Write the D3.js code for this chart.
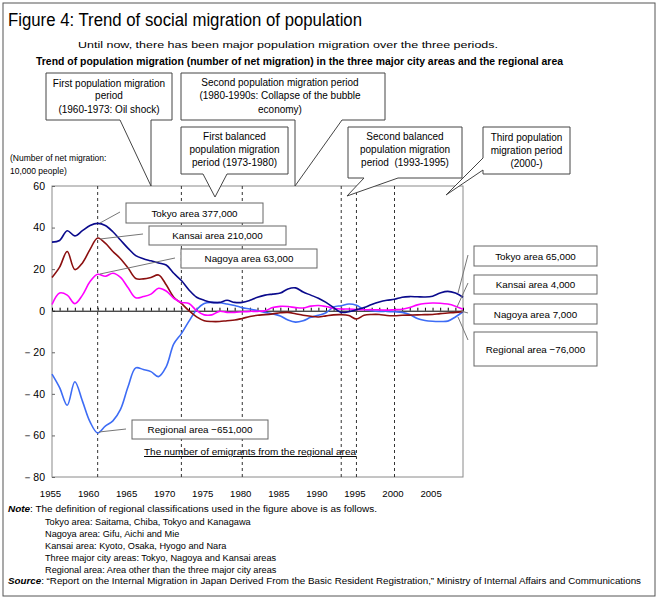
<!DOCTYPE html>
<html>
<head>
<meta charset="utf-8">
<script src="https://cdn.jsdelivr.net/npm/d3@7"></script>
<style>
  body { margin: 0; background: #fff; }
  text { font-family: "Liberation Sans", Arial, sans-serif; fill: #000; }
</style>
</head>
<body>
<script>
// Chart data (net migration, 10,000 people)
var years = [1955, 1956, 1957, 1958, 1959, 1960, 1961, 1962, 1963, 1964,
             1965, 1966, 1967, 1968, 1969, 1970, 1971, 1972, 1973, 1974,
             1975, 1976, 1977, 1978, 1979, 1980, 1981, 1982, 1983, 1984,
             1985, 1986, 1987, 1988, 1989, 1990, 1991, 1992, 1993, 1994,
             1995, 1996, 1997, 1998, 1999, 2000, 2001, 2002, 2003, 2004,
             2005, 2006, 2007, 2008, 2009];

var tokyo = [33, 33.8, 38.5, 36, 38.5, 41, 42, 41, 38, 34,
             30, 26.5, 25, 24, 23, 22, 18, 14.5, 10, 6.5,
             5, 4, 4, 5, 4, 4, 5, 6.5, 7.5, 8,
             8.5, 10.5, 11, 9, 7.5, 6, 4, 1.5, -0.8, -0.5,
             0.5, 1.5, 3, 4.2, 5, 5.5, 6.5, 6.8, 6.7, 6.6,
             7, 8.5, 9.3, 8.5, 6.5];

var kansai = [16, 21, 28.5, 19.8, 23, 29.5, 35, 32.5, 28.5, 25,
              20.5, 15.5, 15.3, 16, 17.2, 12.5, 6.5, 3.5, 0, -3,
              -4.8, -5.2, -5.2, -4.8, -4.5, -3.7, -2.8, -2.2, -1.9, -1.5,
              -1, -0.8, -1.5, -2.2, -2.7, -3, -2.5, -2, -1.9, -2.3,
              -4, -2.2, -1.8, -1.8, -2.3, -2.4, -2.2, -2.1, -2, -1.9,
              -1.8, -1.4, -1.1, -0.8, -0.3];

var nagoya = [3, 8.5, 7.5, 3.4, 7.5, 14, 17.5, 16.6, 18, 16,
              11, 6.2, 6.8, 8, 10.8, 9.5, 6, 4, 3.5, 0,
              -2, -2, -0.3, -0.8, -0.8, -0.5, -0.3, -0.3, 0, 1.5,
              2.1, 2, 1.5, 1.3, 2.2, 2.5, 2, 1.2, 0.8, 0.8,
              0.6, 0.5, 0.5, 0.4, 0.3, 0.5, 0.7, 1.5, 2.8, 3.5,
              3.7, 3.6, 3.2, 2.2, 0.7];

var regional = [-30.5, -37, -45.5, -34.2, -43.5, -53.5, -58.8, -55.5, -53, -47.5,
                -36.5, -27.5, -28.3, -29.3, -31.7, -27, -16, -11, -5, 0.5,
                3.5, 4, 3.8, 3.2, 2.5, 1.5, 0.8, 0, -0.8, -1.5,
                -2.5, -4.5, -5.5, -4.8, -3.2, -2.2, -1, 1.8, 2.4, 3.2,
                2.6, 0.6, 0, -0.3, -0.3, -0.5, -0.8, -1.8, -3.8, -4.7,
                -5.1, -5.2, -5, -3, -0.5];

var yTicks = [60, 40, 20, 0, -20, -40, -60, -80];
var labelYears = [1955, 1960, 1965, 1970, 1975, 1980, 1985, 1990, 1995, 2000, 2005];
var periodYears = [1961, 1972, 1980, 1993, 1995, 2000];

var seriesNames = ["Regional area", "Kansai area", "Nagoya area", "Tokyo area"];
var seriesValues = [regional, kansai, nagoya, tokyo];
var seriesColors = ["#3d6cf5", "#8b0f0f", "#ff00ff", "#0a0a8c"];

// Width and height of the svg
var w = 660;
var h = 600;

var svg = d3.select("body")
        .append("svg")
        .attr("width", w)
        .attr("height", h);

// Outer frame
svg.append("rect")
    .attr("x", 3).attr("y", 3)
    .attr("width", 652).attr("height", 593)
    .attr("fill", "none")
    .attr("stroke", "#555");

// Headings
svg.append("text")
    .attr("x", 8).attr("y", 26)
    .attr("font-size", "17.5px")
    .attr("textLength", 354).attr("lengthAdjust", "spacingAndGlyphs")
    .text("Figure 4: Trend of social migration of population");

svg.append("text")
    .attr("x", 78).attr("y", 47.5)
    .attr("font-size", "9.8px")
    .attr("textLength", 420).attr("lengthAdjust", "spacingAndGlyphs")
    .text("Until now, there has been major population migration over the three periods.");

svg.append("text")
    .attr("x", 36).attr("y", 65)
    .attr("font-size", "11px")
    .attr("font-weight", "bold")
    .attr("textLength", 527).attr("lengthAdjust", "spacingAndGlyphs")
    .text("Trend of population migration (number of net migration) in the three major city areas and the regional area");

// Scales
var x = d3.scaleLinear().domain([1955, 2009]).range([52, 463]);
var y = d3.scaleLinear().domain([-80, 60]).range([477, 186]);

// Plot frame
svg.append("rect")
    .attr("x", x(1955)).attr("y", y(60))
    .attr("width", x(2009) - x(1955)).attr("height", y(-80) - y(60))
    .attr("fill", "none")
    .attr("stroke", "#8a8a8a");

// Y axis (ticks inside)
var yAxis = d3.axisLeft(y)
        .tickValues(yTicks)
        .tickSizeInner(-3)
        .tickSizeOuter(0)
        .tickPadding(7)
        .tickFormat(function(d) { return d < 0 ? "\uFF0D" + Math.abs(d) : d; });

var gy = svg.append("g")
        .attr("transform", "translate(" + x(1955) + ",0)")
        .call(yAxis);
gy.select(".domain").remove();
gy.selectAll("line").attr("stroke", "#666");
gy.selectAll("text")
    .attr("font-size", "10.5px")
    .attr("font-family", "\"Liberation Sans\", Arial, sans-serif");

// Y axis title
svg.append("text").attr("x", 10).attr("y", 161).attr("font-size", "8.5px").text("(Number of net migration:");
svg.append("text").attr("x", 10).attr("y", 174).attr("font-size", "8.5px").text("10,000 people)");

// X axis labels under the frame
var xAxis = d3.axisBottom(x)
        .tickValues(labelYears)
        .tickSize(0)
        .tickPadding(13)
        .tickFormat(d3.format("d"));

var gx = svg.append("g")
        .attr("transform", "translate(0," + y(-80) + ")")
        .call(xAxis);
gx.select(".domain").remove();
gx.selectAll("text")
    .attr("dx", -2)
    .attr("font-size", "9.6px")
    .attr("font-family", "\"Liberation Sans\", Arial, sans-serif");

// Period boundaries (dashed)
svg.selectAll("line.period")
    .data(periodYears)
    .enter()
    .append("line")
    .attr("class", "period")
    .attr("x1", function(d) { return x(d); })
    .attr("x2", function(d) { return x(d); })
    .attr("y1", y(60))
    .attr("y2", y(-80))
    .attr("stroke", "#333")
    .attr("stroke-dasharray", "3,3");

// Zero line with a tick for every year
var zeroAxis = d3.axisBottom(x)
        .tickValues(years)
        .tickSizeInner(-3)
        .tickSizeOuter(0)
        .tickFormat("");

var gz = svg.append("g")
        .attr("transform", "translate(0," + y(0) + ")")
        .call(zeroAxis);
gz.select(".domain").attr("stroke", "#000");
gz.selectAll("line").attr("stroke", "#000");

// Series lines
var line = d3.line()
        .x(function(d, i) { return x(years[i]); })
        .y(function(d) { return y(d); })
        .curve(d3.curveCatmullRom.alpha(0.5));

svg.selectAll("path.series")
    .data(seriesValues)
    .enter()
    .append("path")
    .attr("class", "series")
    .attr("d", line)
    .attr("fill", "none")
    .attr("stroke", function(d, i) { return seriesColors[i]; })
    .attr("stroke-width", 1.6);

// Value labels with leader lines
var valueLabels = [
    {text: "Tokyo area 377,000",    box: [126, 203, 263, 223], lead: [120, 212, 100, 223]},
    {text: "Kansai area 210,000",   box: [149, 226, 286, 245], lead: [143, 234, 100, 239]},
    {text: "Nagoya area 63,000",    box: [181, 249, 317, 268], lead: [175, 258, 100, 274]},
    {text: "Regional area \u2212651,000", box: [132, 420, 268, 439], lead: [126, 429, 99, 432]},
    {text: "Tokyo area 65,000",     box: [474, 246, 597, 266], lead: [468, 255, 458, 293]},
    {text: "Kansai area 4,000",     box: [474, 275, 597, 294], lead: [468, 283, 457, 307]},
    {text: "Nagoya area 7,000",     box: [474, 304, 597, 324], lead: [468, 313, 461, 311]},
    {text: "Regional area \u221276,000", box: [474, 332, 597, 366], lead: [468, 340, 458, 317]}
];

valueLabels.forEach(function(d) {
    svg.append("line")
        .attr("x1", d.lead[0]).attr("y1", d.lead[1])
        .attr("x2", d.lead[2]).attr("y2", d.lead[3])
        .attr("stroke", "#777");
    svg.append("rect")
        .attr("x", d.box[0]).attr("y", d.box[1])
        .attr("width", d.box[2] - d.box[0]).attr("height", d.box[3] - d.box[1])
        .attr("fill", "#fff")
        .attr("stroke", "#666");
    svg.append("text")
        .attr("x", (d.box[0] + d.box[2]) / 2)
        .attr("y", (d.box[1] + d.box[3]) / 2 + 3.5)
        .attr("text-anchor", "middle")
        .attr("font-size", "9.8px")
        .text(d.text);
});

// Underlined note inside the plot
svg.append("text")
    .attr("x", 250).attr("y", 455)
    .attr("text-anchor", "middle")
    .attr("font-size", "9.8px")
    .attr("text-decoration", "underline")
    .attr("textLength", 212).attr("lengthAdjust", "spacingAndGlyphs")
    .text("The number of emigrants from the regional area");

// Period callouts (box outline with a pointer wedge)
var callouts = [
    {lines: ["First population migration", "period", "(1960-1973: Oil shock)"],
     box: [46, 73, 172, 120], side: "bottom", arms: [120, 151], tip: [151, 186], cx: 109, base: [86.6, 99, 112.6]},
    {lines: ["Second population migration period", "(1980-1990s: Collapse of the bubble", "economy)"],
     box: [181, 73, 385, 120], side: "bottom", arms: [295, 342], tip: [295, 186], cx: 280, base: [85.5, 99, 112.6]},
    {lines: ["First balanced", "population migration", "period (1973-1980)"],
     box: [181, 127, 288, 174], side: "bottom", arms: [203, 227], tip: [215, 197], cx: 234.5, base: [140.3, 152.8, 166]},
    {lines: ["Second balanced", "population migration", "period\u00A0 (1993-1995)"],
     box: [348, 127, 462, 178], side: "bottom", arms: [364, 398], tip: [347, 196], cx: 405, base: [140.3, 152.8, 166]},
    {lines: ["Third population", "migration period", "(2000-)"],
     box: [483, 127, 570, 174], side: "left", arms: [158, 170], tip: [446, 195], cx: 526.5, base: [141, 154, 167]}
];

callouts.forEach(function(c) {
    var b = c.box, p = d3.path();
    if (c.side === "bottom") {
        p.moveTo(b[0], b[1]);
        p.lineTo(b[2], b[1]);
        p.lineTo(b[2], b[3]);
        p.lineTo(c.arms[1], b[3]);
        p.lineTo(c.tip[0], c.tip[1]);
        p.lineTo(c.arms[0], b[3]);
        p.lineTo(b[0], b[3]);
        p.closePath();
    } else {
        p.moveTo(b[0], b[1]);
        p.lineTo(b[2], b[1]);
        p.lineTo(b[2], b[3]);
        p.lineTo(b[0], b[3]);
        p.lineTo(b[0], c.arms[1]);
        p.lineTo(c.tip[0], c.tip[1]);
        p.lineTo(b[0], c.arms[0]);
        p.closePath();
    }
    svg.append("path")
        .attr("d", p.toString())
        .attr("fill", "#fff")
        .attr("stroke", "#444");
    c.lines.forEach(function(t, i) {
        svg.append("text")
            .attr("x", c.cx)
            .attr("y", c.base[i])
            .attr("text-anchor", "middle")
            .attr("font-size", "10px")
            .text(t);
    });
});

// Notes and source
var notes = [
    "Tokyo area: Saitama, Chiba, Tokyo and Kanagawa",
    "Nagoya area: Gifu, Aichi and Mie",
    "Kansai area: Kyoto, Osaka, Hyogo and Nara",
    "Three major city areas: Tokyo, Nagoya and Kansai areas",
    "Regional area: Area other than the three major city areas"
];

var noteHead = svg.append("text")
        .attr("x", 8).attr("y", 512)
        .attr("font-size", "9.2px")
        .attr("textLength", 369).attr("lengthAdjust", "spacingAndGlyphs");
noteHead.append("tspan").attr("font-weight", "bold").attr("font-style", "italic").text("Note");
noteHead.append("tspan").text(": The definition of regional classifications used in the figure above is as follows.");

svg.selectAll("text.note")
    .data(notes)
    .enter()
    .append("text")
    .attr("class", "note")
    .attr("x", 45)
    .attr("y", function(d, i) { return 524.5 + i * 12.2; })
    .attr("font-size", "9.2px")
    .text(function(d) { return d; });

var src = svg.append("text")
        .attr("x", 8).attr("y", 584)
        .attr("font-size", "9.2px")
        .attr("textLength", 633).attr("lengthAdjust", "spacingAndGlyphs");
src.append("tspan").attr("font-weight", "bold").attr("font-style", "italic").text("Source");
src.append("tspan").text(": \u201CReport on the Internal Migration in Japan Derived From the Basic Resident Registration,\u201D Ministry of Internal Affairs and Communications");
</script>
</body>
</html>
